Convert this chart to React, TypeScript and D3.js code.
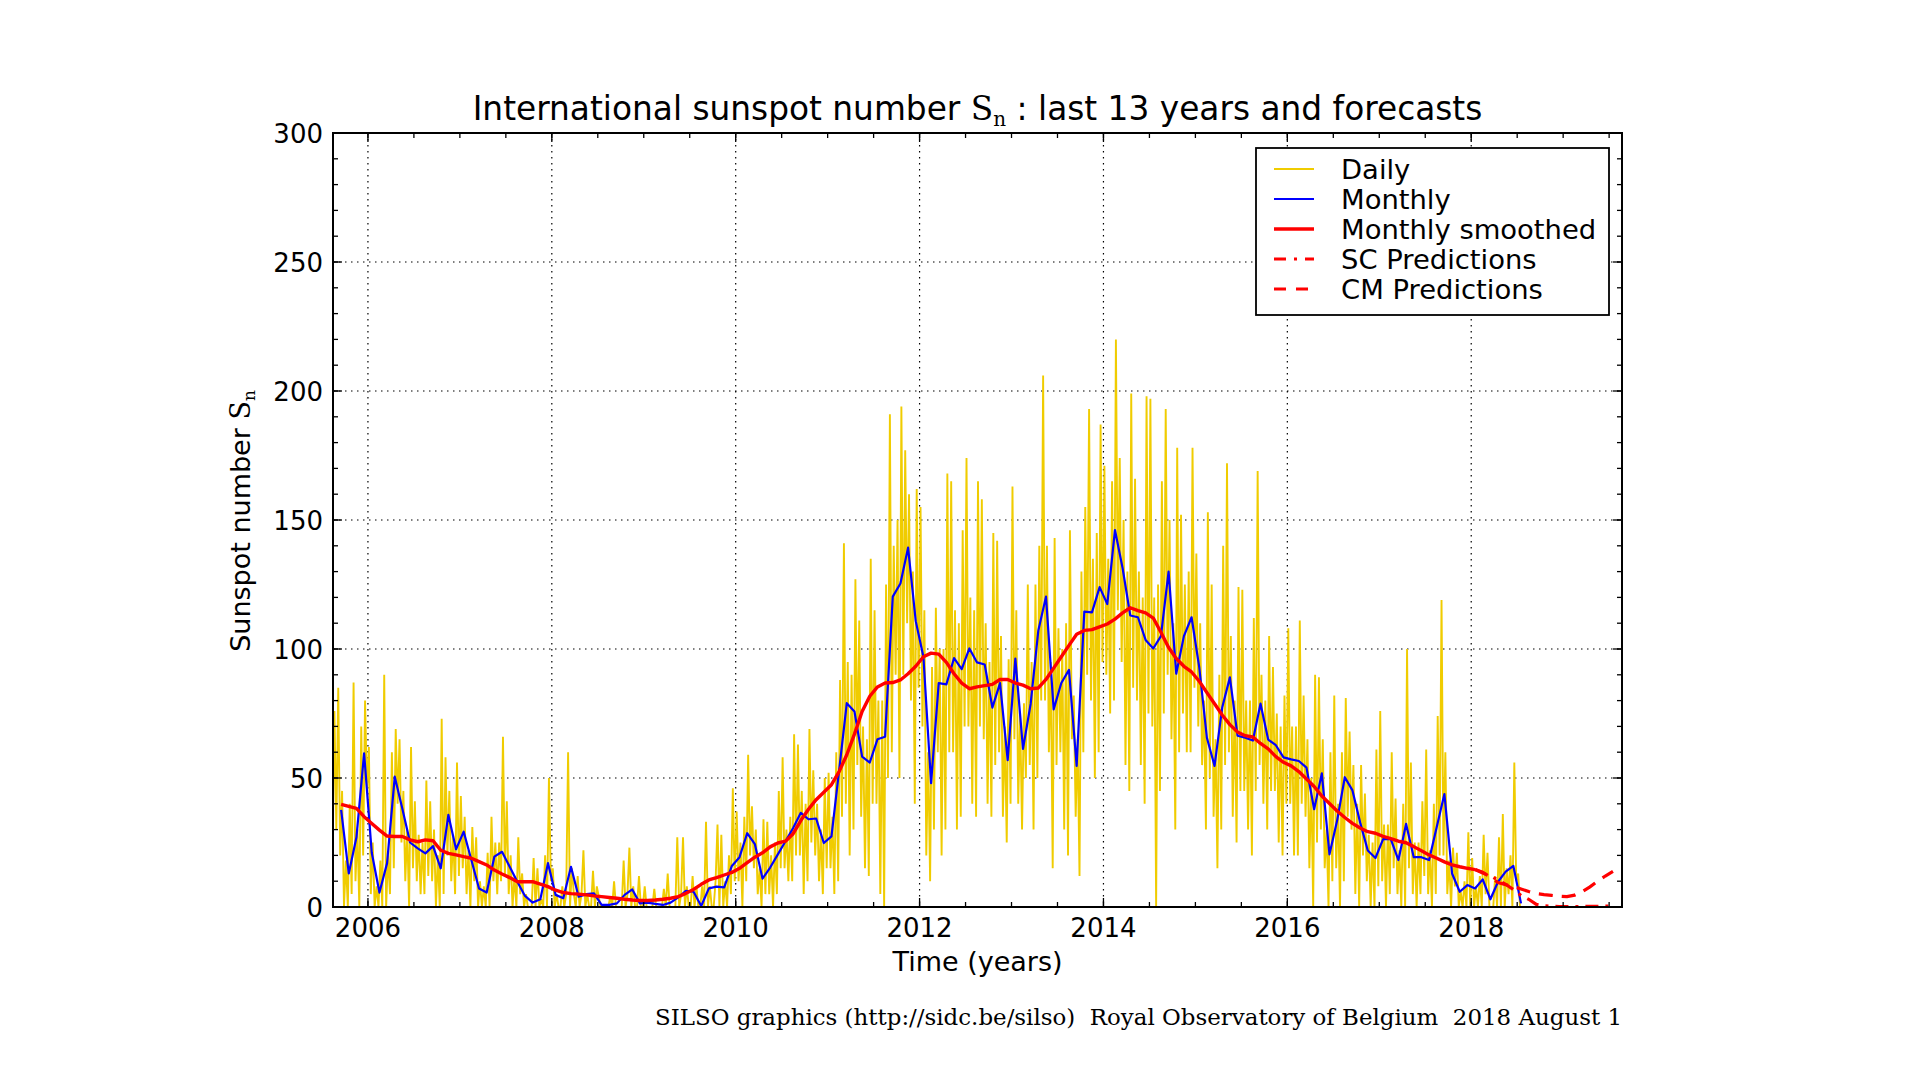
import React from "react";
import * as d3 from "d3";

// ---------- axes / ticks ----------
const xDomain = [2005.62, 2019.64];
const yDomain = [0, 300];
const xTickValues = [2006, 2008, 2010, 2012, 2014, 2016, 2018];
const yTickValues = [0, 50, 100, 150, 200, 250, 300];

// ---------- monthly mean (Sep 2005 .. Jul 2018) ----------
const monthlyStartYear = 2005;
const monthlyStartMonth = 9;
const monthly = [
  37.6, 13.0, 27.0, 59.6,
  21.0, 5.6, 17.0, 50.5, 38.0, 25.0, 22.7, 20.8, 23.6, 15.0, 35.7, 22.4,
  29.2, 18.2, 7.2, 5.6, 19.5, 21.4, 15.6, 9.8, 4.3, 1.7, 3.0, 17.0,
  4.7, 3.4, 15.6, 4.0, 5.0, 5.3, 0.8, 0.8, 1.4, 4.7, 6.8, 1.4,
  1.7, 1.2, 0.8, 1.7, 3.7, 6.3, 5.9, 0.4, 7.2, 7.9, 7.6, 15.9,
  19.3, 28.6, 24.4, 11.0, 15.3, 20.4, 25.5, 30.6, 36.5, 34.0, 34.3, 24.8,
  27.4, 53.0, 79.0, 75.8, 58.3, 56.0, 65.0, 66.0, 120.3, 125.4, 139.3, 110.8,
  97.0, 48.0, 86.8, 86.3, 96.5, 92.2, 100.2, 94.8, 94.0, 77.3, 86.8, 56.9,
  96.3, 61.3, 78.8, 107.2, 120.3, 76.6, 86.8, 91.9, 54.7, 114.5, 114.2, 124.0,
  117.4, 146.1, 131.3, 113.0, 112.3, 103.5, 100.2, 105.0, 130.0, 90.4, 105.0, 112.3,
  93.0, 65.6, 54.7, 77.3, 89.0, 66.4, 65.6, 64.5, 78.8, 64.9, 62.7, 58.0,
  57.2, 56.6, 54.0, 37.9, 51.8, 20.4, 33.5, 50.3, 45.2, 32.8, 21.9, 19.0,
  26.3, 26.3, 18.2, 32.2, 19.3, 19.3, 18.2, 31.0, 43.8, 13.0, 5.9, 8.5,
  7.2, 10.7, 3.0, 9.8, 13.7, 15.9, 1.4,
];

// ---------- 13-month smoothed (Sep 2005 .. Jan 2018) ----------
const smoothed = [
  39.8, 39.0, 38.2, 35.0,
  32.4, 29.8, 27.5, 27.3, 27.3, 26.0, 25.3, 26.0, 25.7, 22.0, 20.8, 20.2,
  19.5, 18.9, 17.6, 16.3, 14.3, 12.8, 11.4, 9.8, 9.8, 9.8, 8.9, 7.9,
  6.5, 5.6, 5.2, 5.0, 4.7, 4.3, 4.0, 3.7, 3.4, 3.0, 2.7, 2.5,
  2.5, 2.7, 3.0, 3.4, 4.0, 5.3, 6.8, 8.8, 10.5, 11.4, 12.4, 13.4,
  15.0, 17.2, 19.3, 21.0, 23.3, 24.8, 25.5, 28.4, 33.5, 37.9, 41.6, 44.5,
  47.4, 52.5, 59.0, 67.0, 75.8, 81.7, 85.3, 86.8, 87.0, 88.0, 90.4, 93.3,
  97.0, 98.4, 98.0, 94.8, 90.4, 86.8, 84.6, 85.3, 85.8, 86.3, 88.2, 88.2,
  86.8, 86.0, 84.6, 84.9, 88.2, 92.6, 97.0, 101.4, 105.7, 107.2, 107.5, 108.6,
  109.7, 111.6, 114.0, 116.0, 114.9, 114.0, 112.0, 106.5, 100.6, 96.3, 93.3, 91.1,
  87.5, 83.1, 78.8, 74.4, 70.7, 67.8, 66.4, 65.9, 63.4, 61.3, 58.3, 56.1,
  54.7, 52.5, 49.6, 46.7, 43.0, 40.1, 37.2, 34.7, 32.4, 30.6, 29.2, 28.6,
  27.4, 26.5, 25.5, 24.9, 23.4, 21.8, 20.2, 18.9, 17.5, 16.3, 15.6, 15.0,
  14.5,
];

// ---------- predictions (Jan 2018 .. Jul 2019) ----------
const predStartYear = 2018;
const predStartMonth = 1;
const cmPred = [14.5, 13.5, 11.5, 9.5, 8.6, 7.9, 7.0, 6.0, 5.2, 4.8, 4.5, 4.2, 4.0, 4.6, 6.0, 7.8, 10.0, 12.0, 13.8];
const scPred = [14.5, 13.2, 12.0, 10.5, 8.8, 6.8, 4.5, 3.0, 1.0, 0.5, 0.3, 0.2, 0.2, 0.2, 0.2, 0.3, 0.3, 0.3, 0.4];

// ---------- daily values, 4 samples per month (from Aug 2005) ----------
const dailyStartYear = 2005;
const dailyStartMonth = 8;
const samplesPerMonth = 4;
const daily2005 = [45,15,76,30, 85,20,45,0, 18,0,40,5, 87,10,30,0, 70,20,80,45];
const daily2006 = [62,5,25,0, 8,0,18,0, 90,0,20,5, 60,15,69,40, 65,25,45,10, 30,0,62,15, 41,10,28,5, 25,5,49,12, 41,10,30,0, 20,0,73,5, 58,20,45,10, 28,5,56,12];
const daily2007 = [43,15,35,5, 22,0,31,10, 27,0,10,0, 8,0,21,0, 35,10,25,5, 25,10,66,12, 41,5,20,0, 12,0,27,5, 13,0,5,0, 0,0,19,0, 15,0,3,0, 20,0,50,10];
const daily2008 = [15,0,5,0, 0,8,0,5, 60,0,15,5, 0,12,0,5, 22,0,5,0, 0,14,0,8, 4,0,0,0, 0,0,4,0, 10,0,0,0, 0,18,0,5, 23,0,8,0, 0,12,0,0];
const daily2009 = [8,0,0,0, 0,7,0,0, 0,0,7,0, 13,0,0,0, 0,27,0,5, 27,0,8,0, 0,12,0,8, 0,0,8,0, 33,0,8,0, 0,10,32,0, 28,0,10,0, 20,5,46,10];
const daily2010 = [37,10,25,0, 35,10,59,20, 39,15,30,5, 15,0,34,5, 33,5,20,0, 25,5,45,15, 58,15,30,10, 35,10,67,20, 63,20,45,5, 40,10,69,25, 53,20,40,10, 30,5,50,15];
const daily2011 = [52,15,35,5, 60,10,88,35, 141,40,95,20, 90,30,127,55, 111,35,70,15, 65,12,135,40, 115,40,80,5, 80,0,125,50, 191,60,140,90, 150,50,194,90, 177,110,160,80, 130,40,162,85];
const daily2012 = [155,70,115,20, 60,10,93,30, 116,60,100,20, 100,30,168,60, 165,60,115,30, 110,35,146,70, 174,70,120,40, 115,35,165,70, 158,65,110,40, 95,35,145,55, 142,60,105,35, 70,25,96,40];
const daily2013 = [163,65,115,40, 75,30,79,50, 125,55,95,30, 125,50,140,80, 206,80,140,60, 95,15,143,55, 108,60,100,30, 110,20,146,65, 82,35,65,12, 130,60,155,90, 193,80,135,50, 145,60,187,95];
const daily2014 = [171,90,135,75, 165,80,220,115, 174,95,150,55, 130,45,199,85, 166,80,130,55, 120,40,198,75, 197,70,120,0, 125,45,165,75, 193,90,150,65, 110,30,178,60, 152,75,125,60, 130,60,178,85];
const daily2015 = [137,70,110,55, 80,30,153,50, 125,35,65,15, 90,30,140,55, 172,60,105,35, 80,25,124,45, 123,45,80,30, 80,20,112,45, 169,55,90,40, 80,30,105,45, 93,45,75,25, 70,20,82,40];
const daily2016 = [108,40,70,20, 70,20,111,40, 82,35,65,15, 50,0,90,25, 89,30,65,15, 30,0,60,10, 82,15,40,0, 60,10,81,35, 68,30,55,5, 40,0,55,20, 44,10,28,0, 25,0,61,8];
const daily2017 = [76,10,32,0, 32,5,60,15, 42,5,22,0, 40,0,100,15, 56,5,25,0, 25,5,41,12, 61,5,22,0, 40,5,74,20, 119,20,60,5, 18,0,23,8, 21,0,6,0, 10,0,29,0];
const daily2018 = [19,0,8,0, 12,0,28,5, 21,0,0,0, 12,0,27,0, 36,0,15,5, 20,0,56,10, 13,0,0,0];

// ---------- legend ----------
const legendLabels = ["Daily", "Monthly", "Monthly smoothed", "SC Predictions", "CM Predictions"];

// ---------- layout & styles ----------
const W = 1917;
const H = 1080;
const PL = 333, PR = 1622, PT = 133, PB = 907;
const YELLOW = "#f0cc00";
const BLUE = "#0000ff";
const RED = "#ff0000";
const SANS = "'DejaVu Sans', 'Noto Sans', sans-serif";
const SERIF = "'DejaVu Serif', 'Liberation Serif', serif";

const monthTime = (y0: number, m0: number, i: number) => y0 + (m0 - 1 + i + 0.5) / 12;

export default function App() {
  const x = d3.scaleLinear().domain(xDomain).range([PL, PR]);
  const y = d3.scaleLinear().domain(yDomain).range([PB, PT]);

  const dailyAll = [
    ...daily2005, ...daily2006, ...daily2007, ...daily2008, ...daily2009, ...daily2010,
    ...daily2011, ...daily2012, ...daily2013, ...daily2014, ...daily2015, ...daily2016,
    ...daily2017, ...daily2018,
  ];
  const dailyPts: [number, number][] = dailyAll.map((v, i) => [
    dailyStartYear + (dailyStartMonth - 1) / 12 + (i + 0.5) / (12 * samplesPerMonth),
    v,
  ]);
  const monthlyPts: [number, number][] = monthly.map((v, i) => [monthTime(monthlyStartYear, monthlyStartMonth, i), v]);
  const smoothPts: [number, number][] = smoothed.map((v, i) => [monthTime(monthlyStartYear, monthlyStartMonth, i), v]);
  const cmPts: [number, number][] = cmPred.map((v, i) => [monthTime(predStartYear, predStartMonth, i), v]);
  const scPts: [number, number][] = scPred.map((v, i) => [monthTime(predStartYear, predStartMonth, i), v]);

  const line = d3
    .line<[number, number]>()
    .x((d) => x(d[0]))
    .y((d) => y(d[1]));

  const xMinor = d3.range(2006, 2019.75, 0.5).filter((t) => t >= xDomain[0] && t <= xDomain[1]);
  const yMinor = d3.range(0, 301, 10);

  const MAJ = 9, MIN = 5;
  const tickStroke = { stroke: "#000", strokeWidth: 1.3 };

  // legend geometry
  const LX = 1256, LY = 148, LW = 353, LH = 167;
  const rowY = (i: number) => 169 + i * 30;

  return (
    <svg
      width={W}
      height={H}
      viewBox={`0 0 ${W} ${H}`}
      style={{ position: "absolute", left: 0, top: 0, background: "#fff" }}
    >
      <rect x={0} y={0} width={W} height={H} fill="#fff" />
      <defs>
        <clipPath id="plotClip">
          <rect x={PL} y={PT} width={PR - PL} height={PB - PT} />
        </clipPath>
      </defs>

      {/* grid */}
      <g stroke="#000" strokeWidth={1.2} strokeDasharray="1.5,4.5">
        {xTickValues.map((t) => (
          <line key={"gx" + t} x1={x(t)} x2={x(t)} y1={PT} y2={PB} />
        ))}
        {yTickValues.map((v) => (
          <line key={"gy" + v} x1={PL} x2={PR} y1={y(v)} y2={y(v)} />
        ))}
      </g>

      {/* data */}
      <g clipPath="url(#plotClip)">
        <path d={line(dailyPts) || ""} fill="none" stroke={YELLOW} strokeWidth={1.9} strokeLinejoin="miter" />
        <path d={line(monthlyPts) || ""} fill="none" stroke={BLUE} strokeWidth={2.2} strokeLinejoin="round" />
        <path d={line(smoothPts) || ""} fill="none" stroke={RED} strokeWidth={3.4} strokeLinejoin="round" />
        <path d={line(scPts) || ""} fill="none" stroke={RED} strokeWidth={3.2} strokeDasharray="13,7,3,7" />
        <path d={line(cmPts) || ""} fill="none" stroke={RED} strokeWidth={3.2} strokeDasharray="14,9" />
      </g>

      {/* ticks */}
      <g {...tickStroke}>
        {xTickValues.map((t) => (
          <g key={"xt" + t}>
            <line x1={x(t)} x2={x(t)} y1={PB} y2={PB - MAJ} />
            <line x1={x(t)} x2={x(t)} y1={PT} y2={PT + MAJ} />
          </g>
        ))}
        {xMinor.map((t) => (
          <g key={"xm" + t}>
            <line x1={x(t)} x2={x(t)} y1={PB} y2={PB - MIN} />
            <line x1={x(t)} x2={x(t)} y1={PT} y2={PT + MIN} />
          </g>
        ))}
        {yTickValues.map((v) => (
          <g key={"yt" + v}>
            <line x1={PL} x2={PL + MAJ} y1={y(v)} y2={y(v)} />
            <line x1={PR} x2={PR - MAJ} y1={y(v)} y2={y(v)} />
          </g>
        ))}
        {yMinor.map((v) => (
          <g key={"ym" + v}>
            <line x1={PL} x2={PL + MIN} y1={y(v)} y2={y(v)} />
            <line x1={PR} x2={PR - MIN} y1={y(v)} y2={y(v)} />
          </g>
        ))}
      </g>

      {/* spines */}
      <rect x={PL} y={PT} width={PR - PL} height={PB - PT} fill="none" stroke="#000" strokeWidth={2} />

      {/* tick labels */}
      <g fontFamily={SANS} fontSize={26} fill="#000">
        {xTickValues.map((t) => (
          <text key={"xl" + t} x={x(t)} y={937} textAnchor="middle">
            {t}
          </text>
        ))}
        {yTickValues.map((v) => (
          <text key={"yl" + v} x={PL - 10} y={y(v) + 9.5} textAnchor="end">
            {v}
          </text>
        ))}
      </g>

      {/* axis labels */}
      <text x={(PL + PR) / 2} y={971} textAnchor="middle" fontFamily={SANS} fontSize={27} fill="#000">
        Time (years)
      </text>
      <text
        transform={`translate(250, 521) rotate(-90)`}
        textAnchor="middle"
        fontFamily={SANS}
        fontSize={27}
        fill="#000"
      >
        Sunspot number{" "}
        <tspan fontFamily={SERIF}>S</tspan>
        <tspan fontFamily={SERIF} fontSize={17} dy={5}>n</tspan>
      </text>

      {/* title */}
      <text x={(PL + PR) / 2} y={120} textAnchor="middle" fontFamily={SANS} fontSize={32.8} fill="#000">
        International sunspot number{" "}
        <tspan fontFamily={SERIF}>S</tspan>
        <tspan fontFamily={SERIF} fontSize={20} dy={6}>n</tspan>
        <tspan dy={-6}> : last 13 years and forecasts</tspan>
      </text>

      {/* legend */}
      <rect x={LX} y={LY} width={LW} height={LH} fill="#fff" stroke="#000" strokeWidth={1.8} />
      <g>
        <line x1={1274} x2={1314} y1={rowY(0)} y2={rowY(0)} stroke={YELLOW} strokeWidth={2} />
        <line x1={1274} x2={1314} y1={rowY(1)} y2={rowY(1)} stroke={BLUE} strokeWidth={2} />
        <line x1={1274} x2={1314} y1={rowY(2)} y2={rowY(2)} stroke={RED} strokeWidth={3.4} />
        <line x1={1274} x2={1314} y1={rowY(3)} y2={rowY(3)} stroke={RED} strokeWidth={3.2} strokeDasharray="12,8,3,8" />
        <line x1={1274} x2={1314} y1={rowY(4)} y2={rowY(4)} stroke={RED} strokeWidth={3.2} strokeDasharray="12,10" />
      </g>
      <g fontFamily={SANS} fontSize={27.4} fill="#000">
        {legendLabels.map((s, i) => (
          <text key={s} x={1341} y={rowY(i) + 9.8}>
            {s}
          </text>
        ))}
      </g>

      {/* footer */}
      <text
        x={1622}
        y={1025}
        textAnchor="end"
        fontFamily={SERIF}
        fontSize={23}
        fill="#000"
        textLength={967}
        lengthAdjust="spacingAndGlyphs"
        style={{ whiteSpace: "pre" }}
      >
        {"SILSO graphics (http://sidc.be/silso)  Royal Observatory of Belgium  2018 August 1"}
      </text>
    </svg>
  );
}
